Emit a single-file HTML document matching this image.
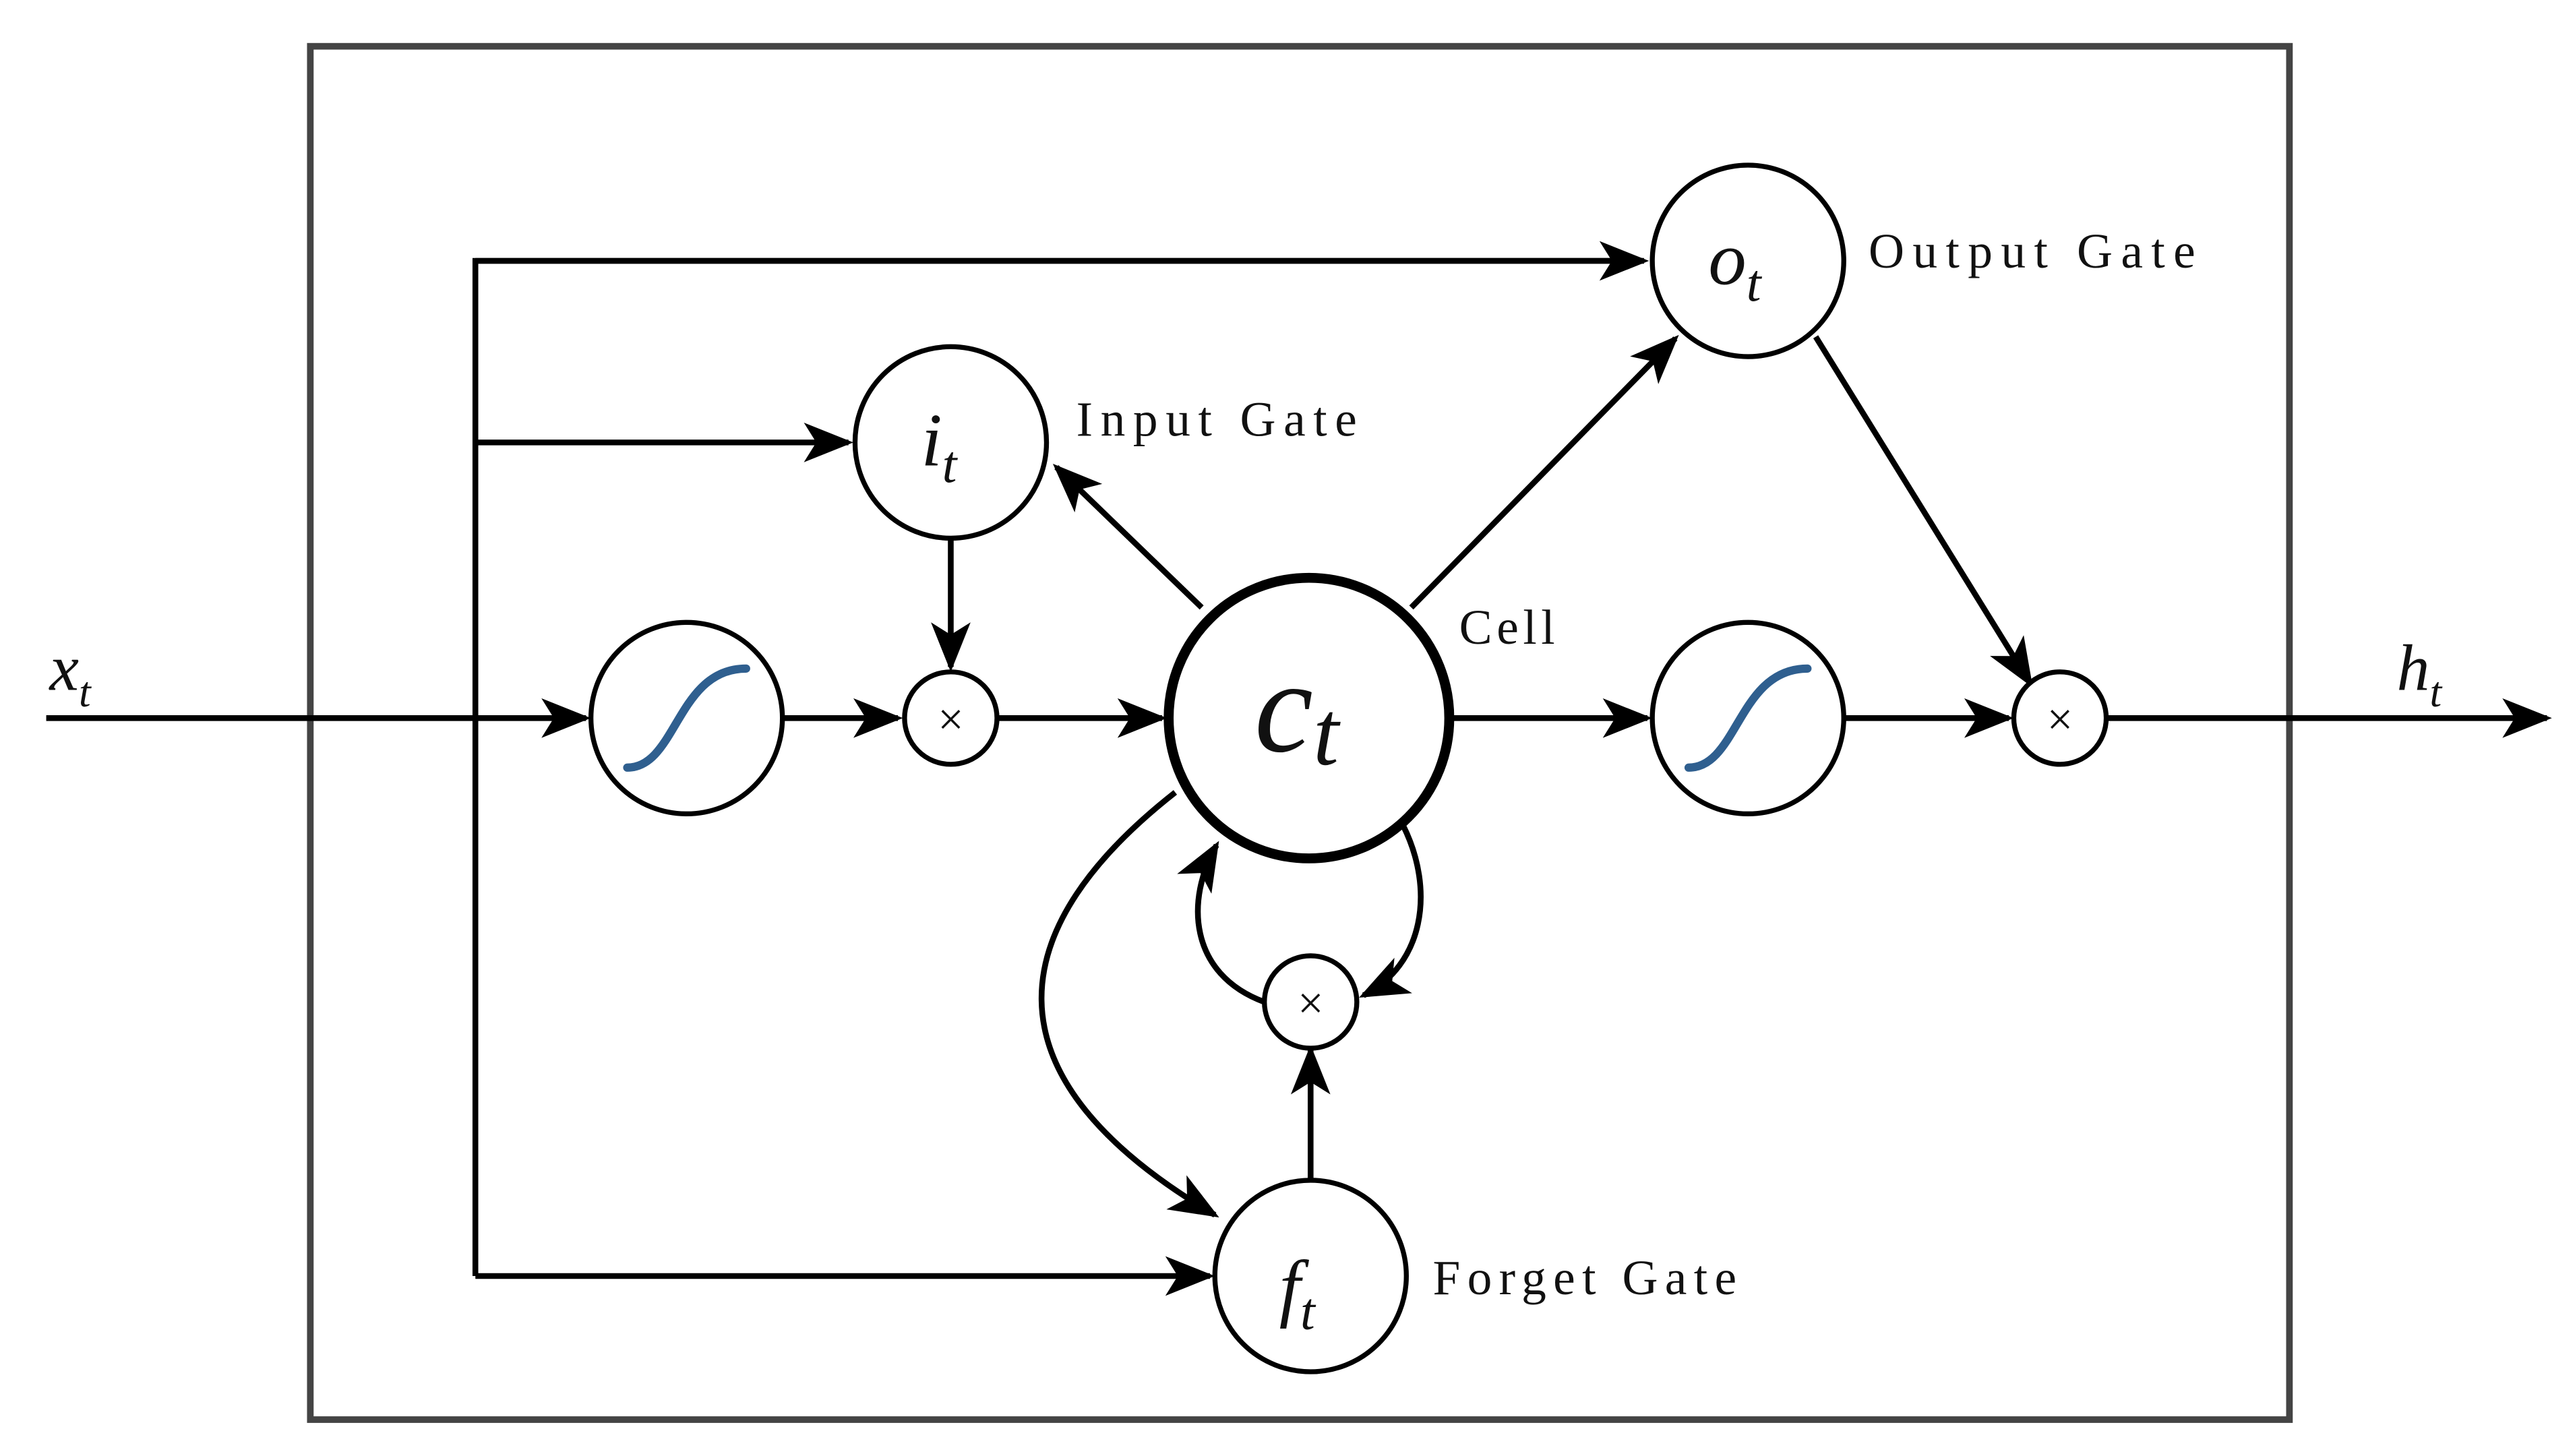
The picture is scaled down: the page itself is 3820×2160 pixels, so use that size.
<!DOCTYPE html>
<html><head><meta charset="utf-8"><style>
html,body{margin:0;padding:0;background:#fff;}
svg{display:block;}
text{font-family:"Liberation Serif",serif;fill:#111;}
.m{font-style:italic;}
</style></head><body>
<svg width="3820" height="2160" viewBox="0 0 1560 882" xmlns="http://www.w3.org/2000/svg">
<defs>
<marker id="b" viewBox="0 0 20 16" refX="18" refY="8" markerWidth="32" markerHeight="24" markerUnits="userSpaceOnUse" orient="auto">
<path d="M0,0 L20,8 L0,16 L5,8 Z" fill="#000"/>
</marker>
</defs>
<rect x="188" y="28" width="1199" height="832" fill="none" stroke="#444" stroke-width="4"/>
<g stroke="#000" stroke-width="3.5" fill="none">
<line x1="28" y1="435" x2="355" y2="435" marker-end="url(#b)"/>
<line x1="475" y1="435" x2="544" y2="435" marker-end="url(#b)"/>
<line x1="605" y1="435" x2="704" y2="435" marker-end="url(#b)"/>
<line x1="880" y1="435" x2="998" y2="435" marker-end="url(#b)"/>
<line x1="1118" y1="435" x2="1217" y2="435" marker-end="url(#b)"/>
<line x1="1277" y1="435" x2="1543" y2="435" marker-end="url(#b)"/>
<polyline points="995,158 288,158 288,773"/>
<line x1="288" y1="158" x2="996" y2="158" marker-end="url(#b)"/>
<line x1="288" y1="268" x2="514" y2="268" marker-end="url(#b)"/>
<line x1="288" y1="773" x2="733" y2="773" marker-end="url(#b)"/>
<line x1="576" y1="327" x2="576" y2="404" marker-end="url(#b)"/>
<line x1="728" y1="368" x2="640" y2="283" marker-end="url(#b)"/>
<line x1="855" y1="368" x2="1015" y2="205" marker-end="url(#b)"/>
<line x1="1100" y1="204" x2="1230" y2="414" marker-end="url(#b)"/>
<line x1="794" y1="714" x2="794" y2="636" marker-end="url(#b)"/>
<path d="M766,607 C720,590 718,545 737,512" marker-end="url(#b)"/>
<path d="M850,500 C870,540 862,585 826,603" marker-end="url(#b)"/>
<path d="M712,480 C610,560 590,650 736,736" marker-end="url(#b)"/>
</g>
<g fill="#fff" stroke="#000" stroke-width="3">
<circle cx="416" cy="435" r="58"/>
<circle cx="1059" cy="435" r="58"/>
<circle cx="576" cy="435" r="28"/>
<circle cx="1248" cy="435" r="28"/>
<circle cx="794" cy="607" r="28"/>
<circle cx="576" cy="268" r="58"/>
<circle cx="1059" cy="158" r="58"/>
<circle cx="794" cy="773" r="58"/>
<circle cx="793" cy="435" r="85" stroke-width="6"/>
</g>
<g stroke="#2f5f8f" stroke-width="5" fill="none" stroke-linecap="round">
<path d="M380,465 C410,465 410,405 452,405"/>
<path d="M1023,465 C1053,465 1053,405 1095,405"/>
</g>
<g font-size="28" text-anchor="middle">
<text x="576" y="445">×</text><text x="1248" y="445">×</text><text x="794" y="617">×</text>
</g>
<text class="m" x="30" y="418" font-size="40">x<tspan font-size="26" dy="10">t</tspan></text>
<text class="m" x="1452" y="418" font-size="40">h<tspan font-size="26" dy="10">t</tspan></text>
<text class="m" x="558" y="282" font-size="46">i<tspan font-size="32" dy="10">t</tspan></text>
<text class="m" x="1035" y="172" font-size="46">o<tspan font-size="32" dy="10">t</tspan></text>
<text class="m" x="775" y="795" font-size="46">f<tspan font-size="32" dy="10">t</tspan></text>
<text class="m" x="760" y="455" font-size="80">c<tspan font-size="56" dy="8">t</tspan></text>
<g font-size="30">
<text x="652" y="264" textLength="170" lengthAdjust="spacing">Input Gate</text>
<text x="1132" y="162" textLength="198" lengthAdjust="spacing">Output Gate</text>
<text x="884" y="390" textLength="58" lengthAdjust="spacing">Cell</text>
<text x="868" y="784" textLength="184" lengthAdjust="spacing">Forget Gate</text>
</g>
</svg>
</body></html>
